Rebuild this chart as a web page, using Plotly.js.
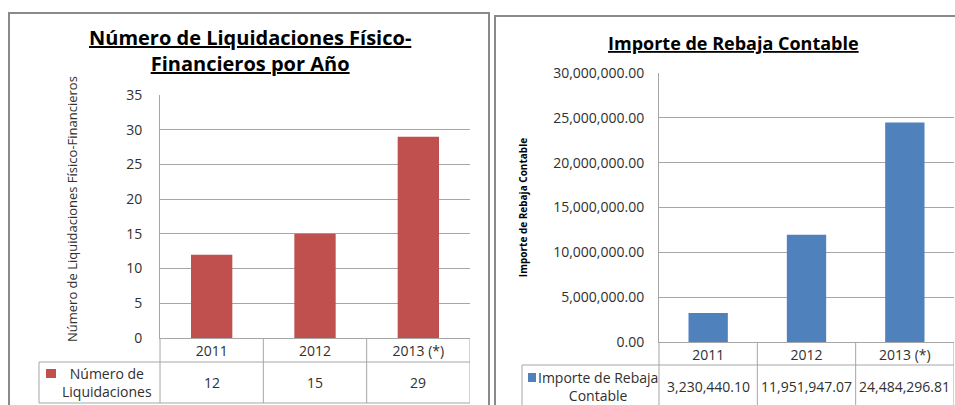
<!DOCTYPE html>
<html>
<head>
<meta charset="utf-8">
<script src="https://cdn.plot.ly/plotly-3.0.1.min.js"></script>
<style>
  html, body { margin: 0; padding: 0; background: #fff; }
  #plot { width: 955px; height: 405px; }
</style>
</head>
<body>
<div id="plot"></div>
<script>
// datos
const years = ['2011', '2012', '2013 (*)'];
const liquidaciones = [12, 15, 29];
const importes = [3230440.10, 11951947.07, 24484296.81];
const nameLiq = 'Número de<br>Liquidaciones';
const nameImp = 'Importe de Rebaja<br>Contable';

(function (document, window) {
    const W = 955, H = 405;
    // pixel -> paper
    function px(x) { return x / W; }
    function py(y) { return (H - y) / H; }

    const FONT = '"Open Sans", "DejaVu Sans", sans-serif';
    const TXT = '#303030';
    const GRID = '#a6a6a6';
    const RED = '#C0504D';
    const BLUE = '#4F81BD';

    const fmtMoney = function (v) {
        return v.toLocaleString('en-US', { minimumFractionDigits: 2, maximumFractionDigits: 2 });
    };

    const traces = [
        { type: 'bar', x: years, y: liquidaciones, name: nameLiq, xaxis: 'x', yaxis: 'y',
          marker: { color: RED }, showlegend: false },
        { type: 'bar', x: years, y: importes, name: nameImp, xaxis: 'x2', yaxis: 'y2',
          marker: { color: BLUE }, showlegend: false }
    ];

    const shapes = [];
    function line(x0, y0, x1, y1, xref) {
        shapes.push({ type: 'line', xref: xref || 'paper', yref: 'paper',
            x0: x0, y0: y0, x1: x1, y1: y1, line: { color: GRID, width: 1 } });
    }
    // marcos de cada grafico
    shapes.push({ type: 'rect', xref: 'paper', yref: 'paper', x0: px(9), x1: px(489), y0: py(420), y1: py(13),
        line: { color: '#8a8a8a', width: 2 } });
    shapes.push({ type: 'rect', xref: 'paper', yref: 'paper', x0: px(495), x1: px(970), y0: py(420), y1: py(16),
        line: { color: '#8a8a8a', width: 2 } });

    // tabla de datos izquierda
    line(px(39), py(362), px(470), py(362));
    line(px(39), py(403), px(470), py(403));
    line(px(39), py(362), px(39), py(403));
    line(px(160), py(338), px(160), py(403));
    [0.5, 1.5, 2.5].forEach(function (c) { line(c, py(338), c, py(403), 'x'); });

    // tabla de datos derecha
    line(px(522), py(365), px(954), py(365));
    line(px(522), py(365), px(522), py(410));
    line(px(659), py(342), px(659), py(410));
    [0.5, 1.5, 2.5].forEach(function (c) { line(c, py(342), c, py(410), 'x2'); });

    // claves de leyenda
    shapes.push({ type: 'rect', xref: 'paper', yref: 'paper', x0: px(46), x1: px(56), y0: py(378), y1: py(369),
        fillcolor: RED, line: { width: 0 } });
    shapes.push({ type: 'rect', xref: 'paper', yref: 'paper', x0: px(528), x1: px(536), y0: py(382), y1: py(373),
        fillcolor: BLUE, line: { width: 0 } });

    function note(text, xref, x, y, size, color) {
        return { text: text, xref: xref, yref: 'paper', x: x, y: y, xanchor: 'center', yanchor: 'middle',
            align: 'center', showarrow: false, font: { family: FONT, size: size, color: color || TXT } };
    }

    const yTitle = note('Número de Liquidaciones Físico-Financieros', 'paper', px(72), py(209), 13);
    yTitle.textangle = -90;

    const annotations = [
        note('<b><u>Número de Liquidaciones Físico-</u></b><br><b><u>Financieros por Año</u></b>',
            'paper', px(250), py(51), 20, '#000'),
        note('<b><u>Importe de Rebaja Contable</u></b>', 'paper', px(733), py(43), 18, '#000'),
        yTitle,
        note(nameLiq, 'paper', px(107), py(382), 14),
        note(nameImp, 'paper', px(598), py(386), 14)
    ];
    liquidaciones.forEach(function (v, i) {
        annotations.push(note(String(v), 'x', i, py(382), 14));
    });
    importes.forEach(function (v, i) {
        annotations.push(note(fmtMoney(v), 'x2', i, py(386), 14));
    });

    const layout = {
        width: W, height: H,
        margin: { l: 0, r: 0, t: 0, b: 0 },
        paper_bgcolor: '#fff', plot_bgcolor: '#fff',
        font: { family: FONT, color: TXT },
        bargap: 0.6,
        showlegend: false,
        xaxis: {
            domain: [px(160), px(470)], anchor: 'y', type: 'category', range: [-0.5, 2.5],
            showgrid: false, zeroline: false, showline: true, linecolor: GRID, linewidth: 1,
            ticks: '', ticklabelstandoff: 0, tickfont: { family: FONT, size: 14, color: TXT }
        },
        yaxis: {
            domain: [py(338), py(95)], anchor: 'x', range: [0, 35], dtick: 5,
            showgrid: true, gridcolor: GRID, gridwidth: 1, zeroline: false,
            showline: true, linecolor: GRID, linewidth: 1,
            ticks: '', ticklabelstandoff: 14, tickfont: { family: FONT, size: 14, color: TXT }
        },
        xaxis2: {
            domain: [px(659), px(954)], anchor: 'y2', type: 'category', range: [-0.5, 2.5],
            showgrid: false, zeroline: false, showline: true, linecolor: GRID, linewidth: 1,
            ticks: '', ticklabelstandoff: 0, tickfont: { family: FONT, size: 14, color: TXT }
        },
        yaxis2: {
            domain: [py(342), py(73)], anchor: 'x2', range: [0, 30000000], dtick: 5000000,
            tickformat: ',.2f',
            showgrid: true, gridcolor: GRID, gridwidth: 1, zeroline: false,
            showline: true, linecolor: GRID, linewidth: 1,
            ticks: '', ticklabelstandoff: 11, tickfont: { family: FONT, size: 14, color: TXT },
            title: { text: '<b>Importe de Rebaja Contable</b>', standoff: 23,
                     font: { family: FONT, size: 10, color: '#000' } }
        },
        shapes: shapes,
        annotations: annotations
    };

    Plotly.newPlot('plot', traces, layout, { staticPlot: true, displayModeBar: false });

})(document, window);
</script>
</body>
</html>
